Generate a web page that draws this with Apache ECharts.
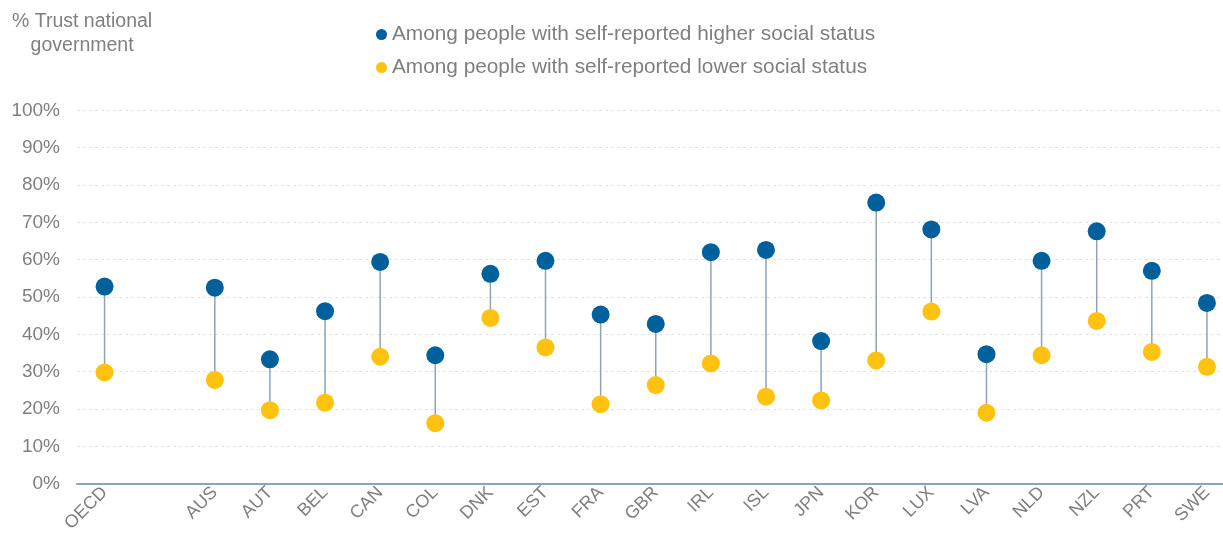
<!DOCTYPE html>
<html>
<head>
<meta charset="utf-8">
<script src="https://cdn.jsdelivr.net/npm/echarts@6/dist/echarts.min.js"></script>
<style>
html,body{margin:0;padding:0;background:#fff;}
#chart{width:1223px;height:535px;}
</style>
</head>
<body>
<div id="chart"></div>
<script>
const categories = ['OECD', '', 'AUS', 'AUT', 'BEL', 'CAN', 'COL', 'DNK', 'EST', 'FRA', 'GBR', 'IRL', 'ISL', 'JPN', 'KOR', 'LUX', 'LVA', 'NLD', 'NZL', 'PRT', 'SWE'];
const higherStatus = [52.8, null, 52.5, 33.3, 46.2, 59.4, 34.4, 56.2, 59.7, 45.3, 42.8, 62.0, 62.6, 38.2, 75.3, 68.1, 34.7, 59.7, 67.6, 57.0, 48.4];
const lowerStatus  = [29.8, null, 27.8, 19.7, 21.7, 34.0, 16.2, 44.4, 36.5, 21.3, 26.4, 32.2, 23.3, 22.3, 33.0, 46.1, 19.0, 34.4, 43.6, 35.3, 31.3];
const yTicks = [0, 10, 20, 30, 40, 50, 60, 70, 80, 90, 100];
const seriesNames = ['Among people with self-reported higher social status', 'Among people with self-reported lower social status'];
const axisTitle = '% Trust national\ngovernment';

const FONT = '"Liberation Sans", Arial, sans-serif';
const GREY = '#7f7f7f';
const BLUE = '#00609c';
const YELLOW = '#ffc20e';

const rangeData = categories.map((c, i) => [i, higherStatus[i], lowerStatus[i]]);

const chart = echarts.init(document.getElementById('chart'), null, {renderer: 'canvas'});
chart.setOption({
  backgroundColor: '#fff',
  animation: false,
  textStyle: {fontFamily: FONT},
  graphic: [{
    type: 'text',
    left: 12,
    top: 10,
    style: {
      text: axisTitle,
      fill: GREY,
      font: '19.5px ' + FONT,
      textAlign: 'center',
      lineHeight: 24,
      x: 71
    }
  }],
  legend: {
    orient: 'vertical',
    left: 371,
    top: 19,
    itemWidth: 11,
    itemHeight: 11,
    itemGap: 12,
    icon: 'circle',
    textStyle: {color: GREY, fontSize: 20.8, fontFamily: FONT},
    data: seriesNames
  },
  grid: {left: 77, width: 1157.5, top: 110.3, bottom: 51.3, containLabel: false, outerBoundsMode: 'none'},
  xAxis: {
    type: 'category',
    data: categories,
    boundaryGap: true,
    axisLine: {show: true, lineStyle: {color: '#8ea2bb', width: 2}},
    axisTick: {show: false},
    axisLabel: {rotate: 45, color: GREY, fontSize: 18, fontFamily: FONT, margin: 6, interval: 0},
    splitLine: {show: false}
  },
  yAxis: {
    type: 'value',
    min: yTicks[0],
    max: yTicks[yTicks.length - 1],
    interval: 10,
    axisLine: {show: false},
    axisTick: {show: false},
    axisLabel: {color: GREY, fontSize: 19, fontFamily: FONT, margin: 17, formatter: v => v + '%'},
    splitLine: {show: true, lineStyle: {color: '#e3e3e3', type: [3, 3], width: 1}}
  },
  series: [
    {
      type: 'custom',
      name: 'range',
      data: rangeData,
      z: 1,
      silent: true,
      renderItem: function (params, api) {
        const hi = api.value(1), lo = api.value(2);
        if (hi == null || lo == null || isNaN(hi) || isNaN(lo)) return null;
        const p1 = api.coord([api.value(0), hi]);
        const p2 = api.coord([api.value(0), lo]);
        return {
          type: 'line',
          shape: {x1: p1[0], y1: p1[1], x2: p2[0], y2: p2[1]},
          style: {stroke: '#8ea2bb', lineWidth: 1.5}
        };
      }
    },
    {
      type: 'scatter',
      name: seriesNames[0],
      data: higherStatus,
      symbol: 'circle',
      symbolSize: 18,
      itemStyle: {color: BLUE, opacity: 1},
      z: 3
    },
    {
      type: 'scatter',
      name: seriesNames[1],
      data: lowerStatus,
      symbol: 'circle',
      symbolSize: 18,
      itemStyle: {color: YELLOW, opacity: 1},
      z: 3
    }
  ]
});
</script>
</body>
</html>
